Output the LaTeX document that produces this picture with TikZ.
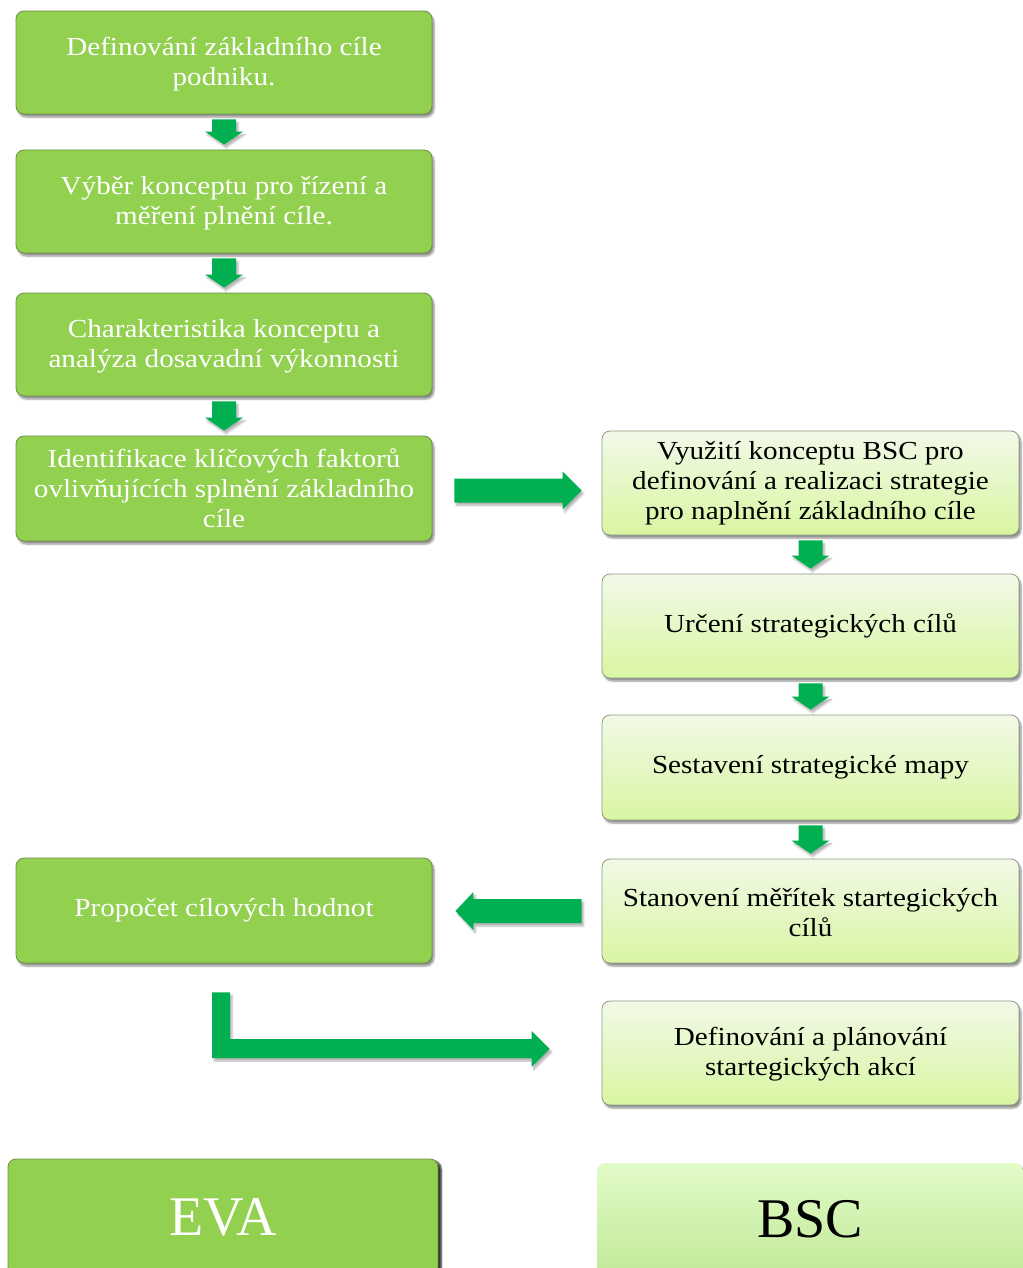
\documentclass[tikz,border=0pt]{standalone}
\usepackage{fontspec}
\setmainfont{Liberation Serif}
\newfontfamily\boxfont[FakeStretch=1.12]{Liberation Serif}
\usetikzlibrary{calc,shadows.blur}

\definecolor{evagreen}{HTML}{92D050}
\definecolor{evaedge}{HTML}{6E8F45}
\definecolor{arrowgreen}{HTML}{00B050}
\definecolor{bsctop}{HTML}{F2F9E8}
\definecolor{bscbot}{HTML}{D8F6A2}
\definecolor{bscedge}{HTML}{8E9A84}
\definecolor{tagtop}{HTML}{E2FCC8}
\definecolor{tagbot}{HTML}{C2E898}

\tikzset{
  box/.style={rounded corners=8pt, minimum width=416pt, minimum height=103pt,
    align=center, inner sep=4pt, font=\boxfont\fontsize{26}{30}\selectfont,
    blur shadow={shadow xshift=2pt, shadow yshift=-3pt, shadow blur steps=6, shadow opacity=45}},
  evabox/.style={box, fill=evagreen, draw=evaedge, line width=0.8pt, text=white},
  bscbox/.style={box, top color=bsctop, bottom color=bscbot, draw=bscedge, line width=0.8pt, text=black},
  tagfont/.style={font=\rmfamily\fontsize{56}{60}\selectfont},
  fatarrow/.style={fill=arrowgreen, draw=none,
    blur shadow={shadow xshift=2pt, shadow yshift=-3pt, shadow blur steps=5, shadow opacity=30}},
}

% vertical block arrow from the bottom of #1 to the top of #2
\newcommand\fatdown[2]{%
  \path[fatarrow] let \p1=(#1.south), \p2=(#2.north) in
    (\x1-12pt,\y1-5pt) -- (\x1+12pt,\y1-5pt) -- (\x1+12pt,\y2+18pt) --
    (\x1+19pt,\y2+18pt) -- (\x1,\y2+5pt) -- (\x1-19pt,\y2+18pt) --
    (\x1-12pt,\y2+18pt) -- cycle;}

\begin{document}
\begin{tikzpicture}[x=1pt,y=-1pt]
\useasboundingbox (0,0) rectangle (1022,1268);

% EVA column
\node[evabox] (b1) at (224,62.5) {\strut Definování základního cíle\\podniku.};
\node[evabox] (b2) at (224,201.5) {\strut Výběr konceptu pro řízení a\\měření plnění cíle.};
\node[evabox] (b3) at (224,344.5) {\strut Charakteristika konceptu a\\analýza dosavadní výkonnosti};
\node[evabox, minimum height=105pt] (b4) at (224,488.5) {Identifikace klíčových faktorů\\ovlivňujících splnění základního\\cíle};
\node[evabox, minimum height=105pt] (prop) at (224,910.5) {Propočet cílových hodnot};

% BSC column
\node[bscbox, minimum width=417pt, minimum height=104pt] (r1) at (810.5,483) {Využití konceptu BSC pro\\definování a realizaci strategie\\pro naplnění základního cíle};
\node[bscbox, minimum width=417pt, minimum height=104pt] (r2) at (810.5,626) {Určení strategických cílů};
\node[bscbox, minimum width=417pt, minimum height=105pt] (r3) at (810.5,767.5) {Sestavení strategické mapy};
\node[bscbox, minimum width=417pt, minimum height=104pt] (r4) at (810.5,911) {\strut Stanovení měřítek startegických\\cílů};
\node[bscbox, minimum width=417pt, minimum height=104pt] (r5) at (810.5,1053) {\strut Definování a plánování\\startegických akcí};

% column labels
\node[evabox, tagfont, minimum width=430pt, minimum height=116pt,
      blur shadow={shadow xshift=3pt, shadow yshift=-2pt, shadow opacity=60}] (eva) at (223,1217) {EVA};
\node[box, tagfont, top color=tagtop, bottom color=tagbot, draw=none,
      minimum width=426pt, minimum height=112pt] (bsc) at (810,1219) {BSC};

% flow arrows
\fatdown{b1}{b2}
\fatdown{b2}{b3}
\fatdown{b3}{b4}
\fatdown{r1}{r2}
\fatdown{r2}{r3}
\fatdown{r3}{r4}

% b4 -> r1
\path[fatarrow] let \p1=(b4.east), \p2=(r1.west) in
  (\x1+22pt,\y1-2pt+12pt) -- (\x2-39pt,\y1-2pt+12pt) -- (\x2-39pt,\y1-2pt+19pt) --
  (\x2-20pt,\y1-2pt) -- (\x2-39pt,\y1-2pt-19pt) -- (\x2-39pt,\y1-2pt-12pt) --
  (\x1+22pt,\y1-2pt-12pt) -- cycle;

% r4 -> prop
\path[fatarrow] let \p1=(r4.west), \p2=(prop.east) in
  (\x1-20pt,\y1+12pt) -- (\x2+41pt,\y1+12pt) -- (\x2+41pt,\y1+19pt) --
  (\x2+23pt,\y1) -- (\x2+41pt,\y1-19pt) -- (\x2+41pt,\y1-12pt) --
  (\x1-20pt,\y1-12pt) -- cycle;

% prop -> r5 (elbow)
\path[fatarrow] let \p1=(prop.south), \p2=(r5.west) in
  (\x1-12pt,\y1-29pt) -- (\x1+6pt,\y1-29pt) -- (\x1+6pt,\y2+14pt) --
  (\x2-70pt,\y2+14pt) -- (\x2-70pt,\y2+22pt) -- (\x2-52pt,\y2+4pt) --
  (\x2-70pt,\y2-14pt) -- (\x2-70pt,\y2-5pt) -- (\x1-12pt,\y2-5pt) -- cycle;
\end{tikzpicture}
\end{document}
